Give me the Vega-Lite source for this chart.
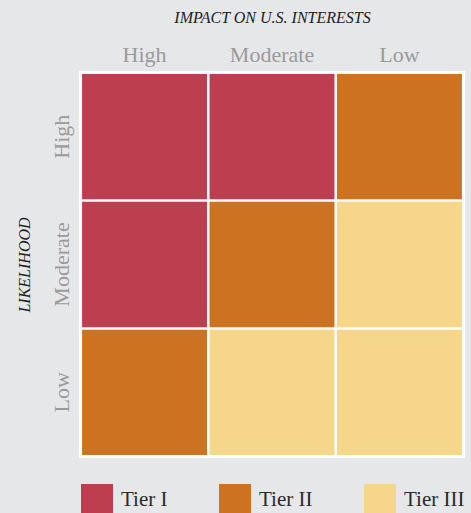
{
  "$schema": "https://vega.github.io/schema/vega-lite/v6.json",
  "autosize": {"type": "none"},
  "width": 386,
  "height": 387,
  "padding": {"left": 79, "top": 71, "right": 6, "bottom": 55},
  "background": "#e6e7e9",
  "view": {"fill": "#ffffff", "stroke": null},
  "data": {
    "values": [
      {"impact": "High", "likelihood": "High", "tier": "Tier I"},
      {"impact": "Moderate", "likelihood": "High", "tier": "Tier I"},
      {"impact": "Low", "likelihood": "High", "tier": "Tier II"},
      {"impact": "High", "likelihood": "Moderate", "tier": "Tier I"},
      {"impact": "Moderate", "likelihood": "Moderate", "tier": "Tier II"},
      {"impact": "Low", "likelihood": "Moderate", "tier": "Tier III"},
      {"impact": "High", "likelihood": "Low", "tier": "Tier II"},
      {"impact": "Moderate", "likelihood": "Low", "tier": "Tier III"},
      {"impact": "Low", "likelihood": "Low", "tier": "Tier III"}
    ]
  },
  "mark": {"type": "rect"},
  "encoding": {
    "x": {
      "field": "impact", "type": "nominal",
      "sort": ["High", "Moderate", "Low"],
      "scale": {"paddingInner": 0.02, "paddingOuter": 0.024},
      "axis": {
        "orient": "top", "title": "IMPACT ON U.S. INTERESTS",
        "domain": false, "ticks": false, "labelAngle": 0,
        "labelPadding": 5, "labelFont": "Liberation Serif", "labelFontSize": 22, "labelColor": "#9a9a9a",
        "titleFont": "Liberation Serif", "titleFontSize": 16, "titleFontStyle": "italic", "titleFontWeight": "normal",
        "titleColor": "#222222", "titlePadding": 18
      }
    },
    "y": {
      "field": "likelihood", "type": "nominal",
      "sort": ["High", "Moderate", "Low"],
      "scale": {"paddingInner": 0.02, "paddingOuter": 0.024},
      "axis": {
        "title": "LIKELIHOOD",
        "domain": false, "ticks": false, "labelAngle": -90, "labelAlign": "center", "labelBaseline": "bottom",
        "labelPadding": 6, "labelFont": "Liberation Serif", "labelFontSize": 22, "labelColor": "#9a9a9a",
        "titleFont": "Liberation Serif", "titleFontSize": 16, "titleFontStyle": "italic", "titleFontWeight": "normal",
        "titleColor": "#222222", "titlePadding": 18
      }
    },
    "color": {
      "field": "tier", "type": "nominal",
      "scale": {"domain": ["Tier I", "Tier II", "Tier III"], "range": ["#bd3f4f", "#cc7220", "#f6d68a"]},
      "legend": {
        "orient": "bottom", "direction": "horizontal", "title": null,
        "symbolType": "square", "symbolSize": 1024, "symbolStrokeWidth": 0, "symbolOpacity": 1,
        "labelFont": "Liberation Serif", "labelFontSize": 21, "labelColor": "#2a2a2a",
        "labelOffset": 8, "columnPadding": 51, "gridAlign": "none", "offset": 24, "padding": 2, "labelLimit": 300
      }
    }
  }
}
